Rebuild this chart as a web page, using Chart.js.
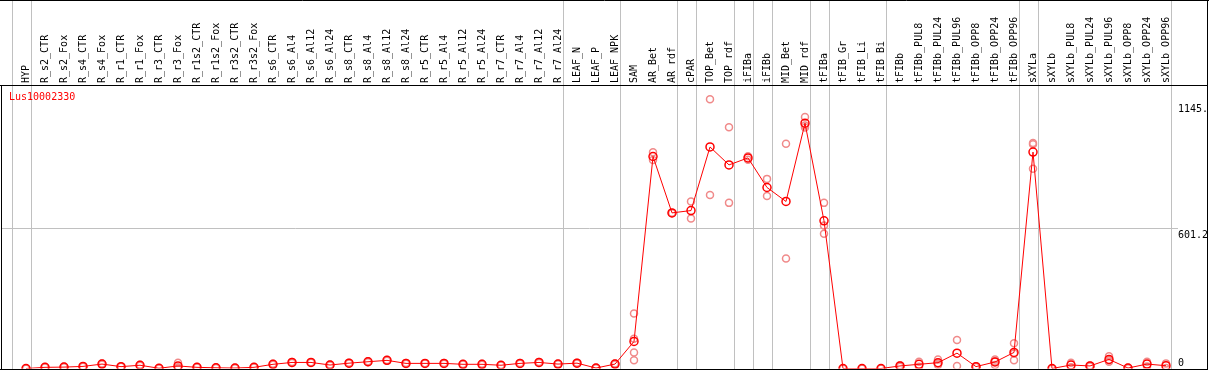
<!DOCTYPE html>
<html>
<head>
<meta charset="utf-8">
<script src="https://cdn.jsdelivr.net/npm/chart.js@4.4.1/dist/chart.umd.min.js"></script>
<style>
  html, body { margin: 0; padding: 0; background: #fff; }
  #myChart { display: block; }
</style>
</head>
<body>
<canvas id="myChart" width="1209" height="370"></canvas>
<script>
const ctx = document.getElementById('myChart').getContext('2d');

const geneName = 'Lus10002330';
const categories = ['HYP', 'R_s2_CTR', 'R_s2_Fox', 'R_s4_CTR', 'R_s4_Fox', 'R_r1_CTR', 'R_r1_Fox',
    'R_r3_CTR', 'R_r3_Fox', 'R_r1s2_CTR', 'R_r1s2_Fox', 'R_r3s2_CTR', 'R_r3s2_Fox', 'R_s6_CTR',
    'R_s6_Al4', 'R_s6_Al12', 'R_s6_Al24', 'R_s8_CTR', 'R_s8_Al4', 'R_s8_Al12', 'R_s8_Al24',
    'R_r5_CTR', 'R_r5_Al4', 'R_r5_Al12', 'R_r5_Al24', 'R_r7_CTR', 'R_r7_Al4', 'R_r7_Al12', 'R_r7_Al24',
    'LEAF_N', 'LEAF_P', 'LEAF_NPK', 'SAM', 'AR_Bet', 'AR_rdf', 'cPAR', 'TOP_Bet', 'TOP_rdf',
    'iFIBa', 'iFIBb', 'MID_Bet', 'MID_rdf', 'tFIBa', 'tFIB_Gr', 'tFIB_Li', 'tFIB_Bi', 'tFIBb',
    'tFIBb_PUL8', 'tFIBb_PUL24', 'tFIBb_PUL96', 'tFIBb_OPP8', 'tFIBb_OPP24', 'tFIBb_OPP96',
    'sXYLa', 'sXYLb', 'sXYLb_PUL8', 'sXYLb_PUL24', 'sXYLb_PUL96', 'sXYLb_OPP8', 'sXYLb_OPP24', 'sXYLb_OPP96'];

// mean expression per sample
const meanValues = [0, 5, 6, 9, 19, 8, 14, 1, 11, 5, 3, 2, 5, 18,
    26, 26, 15, 23, 29, 35, 22,
    22, 22, 18, 18, 14, 22, 26, 19,
    23, 2, 19, 116, 910, 668, 678, 951, 874,
    904, 777, 717, 1053, 634, 0, 0, 0, 11,
    18, 25, 66, 8, 28, 69,
    929, 0, 15, 11, 39, 2, 19, 12];

// replicates (null = no replicate)
const rep1 = [0, 4, 5, 8, 17, 7, 12, 0, 25, 4, 2, 1, 4, 16,
    24, 25, 13, 21, 27, 33, 20,
    21, 20, 17, 16, 13, 20, 24, 18,
    21, 1, 17, 236, 928, 668, 717, 1156, 1036,
    911, 814, 965, 1080, 711, 0, 0, 0, 14,
    29, 39, 122, 6, 39, 108,
    968, 0, 25, 13, 53, 1, 29, 22];
const rep2 = [0, 6, 7, 10, 21, 9, 16, 2, 4, 6, 4, 3, 6, 20,
    28, 27, 17, 25, 31, 37, 24,
    23, 24, 19, 20, 15, 24, 28, 20,
    25, 3, 21, 128, 895, 668, 644, 745, 711,
    896, 740, 472, 1035, 614, 0, 0, 0, 8,
    7, 15, 11, 10, 15, 35,
    963, 0, 5, 9, 29, 3, 9, 2];
const rep3 = [null, null, null, null, null, null, null, null, 4, null, null, null, null, null,
    null, null, null, null, null, null, null,
    null, null, null, null, null, null, null, null,
    null, null, null, 69, null, null, null, null, null,
    null, null, null, 1043, 578, null, null, null, null,
    null, 21, null, null, 30, 64,
    857, null, null, null, 35, null, null, null];
const rep4 = categories.map((c, i) => c === 'SAM' ? 35 : null);

// sample groups end after these indices (-1 = before first)
const groupEnds = [-1, 0, 28, 31, 34, 35, 37, 38, 39, 41, 42, 45, 52, 53, 60];
const yTicks = [0, 601.2, 1145];
const yTickLabels = ['0', '601.2', '1145.'];

const monoFont = '10px "DejaVu Sans Mono", monospace';

function replicateSet(values) {
    return {
        data: values,
        showLine: false,
        pointRadius: 3.5,
        pointBorderWidth: 1.5,
        pointBorderColor: '#f08a8a',
        pointBackgroundColor: 'rgba(0,0,0,0)',
        pointHoverRadius: 3.5,
        order: 2
    };
}

const framePlugin = {
    id: 'frame',
    beforeDatasetsDraw(chart) {
        const c = chart.ctx;
        const x = chart.scales.x;
        const y = chart.scales.y;
        const step = x.getPixelForValue(1) - x.getPixelForValue(0);
        c.save();
        c.strokeStyle = '#c0c0c0';
        c.lineWidth = 1;
        c.beginPath();
        groupEnds.forEach(i => {
            const px = Math.round(x.getPixelForValue(0) + step * i + 4.5) + 0.5;
            c.moveTo(px, 0);
            c.lineTo(px, chart.height);
        });
        const py = Math.round(y.getPixelForValue(601.2)) + 0.5;
        c.moveTo(1, py);
        c.lineTo(1178, py);
        c.stroke();
        c.restore();
    },
    afterDraw(chart) {
        const c = chart.ctx;
        const y = chart.scales.y;
        c.save();
        c.strokeStyle = '#000';
        c.lineWidth = 1;
        c.beginPath();
        c.moveTo(0, 0.5); c.lineTo(1209, 0.5);
        c.moveTo(0, 85.5); c.lineTo(1208, 85.5);
        c.moveTo(0, 369.5); c.lineTo(1208, 369.5);
        c.moveTo(1.5, 85); c.lineTo(1.5, 370);
        c.moveTo(1207.5, 0); c.lineTo(1207.5, 370);
        c.stroke();

        c.font = monoFont;
        c.fillStyle = '#000';
        c.textAlign = 'left';
        c.textBaseline = 'alphabetic';
        yTicks.forEach((v, i) => {
            const py = y.getPixelForValue(v);
            c.fillText(yTickLabels[i], 1178, v === 0 ? py - 2.5 : py + 10);
        });

        c.fillStyle = '#ff0000';
        c.textBaseline = 'middle';
        c.fillText(geneName, 9, 97.5);
        c.restore();
    }
};

const myChart = new Chart(ctx, {
    type: 'line',
    data: {
        labels: categories,
        datasets: [{
            data: meanValues,
            borderColor: '#ff0000',
            borderWidth: 1,
            pointRadius: 4,
            pointBorderWidth: 1.5,
            pointBorderColor: '#ff0000',
            pointBackgroundColor: 'rgba(0,0,0,0)',
            pointHoverRadius: 4,
            tension: 0,
            order: 1
        },
        replicateSet(rep1),
        replicateSet(rep2),
        replicateSet(rep3),
        replicateSet(rep4)]
    },
    options: {
        responsive: false,
        animation: false,
        events: [],
        layout: {
            autoPadding: false,
            padding: { left: 16.5, right: 0, top: 0, bottom: 1.5 }
        },
        plugins: {
            legend: { display: false },
            tooltip: { enabled: false }
        },
        scales: {
            x: {
                position: 'top',
                offset: true,
                grid: { display: false, drawTicks: false },
                border: { display: false },
                ticks: {
                    autoSkip: false,
                    minRotation: 90,
                    maxRotation: 90,
                    padding: 2,
                    labelOffset: 12,
                    color: '#000',
                    font: { family: '"DejaVu Sans Mono", monospace', size: 10 }
                },
                afterFit(scale) { scale.height = 85; }
            },
            y: {
                position: 'right',
                min: 0,
                max: 1217,
                grid: { display: false, drawTicks: false },
                border: { display: false },
                ticks: { display: false },
                afterBuildTicks(scale) { scale.ticks = yTicks.map(v => ({ value: v })); },
                afterFit(scale) { scale.width = 33.5; }
            }
        }
    },
    plugins: [framePlugin]
});
</script>
</body>
</html>
